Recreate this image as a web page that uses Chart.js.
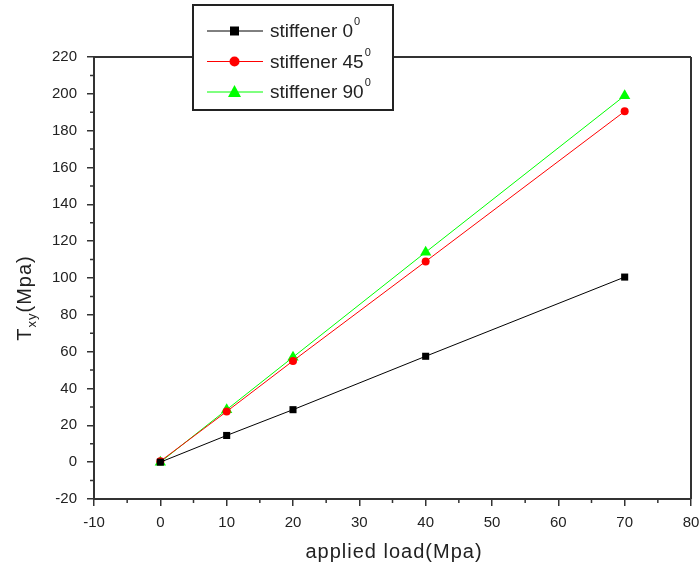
<!DOCTYPE html>
<html>
<head>
<meta charset="utf-8">
<script src="https://cdn.jsdelivr.net/npm/chart.js@4/dist/chart.umd.min.js"></script>
<style>
  html, body { margin: 0; padding: 0; background: #fff; }
  #wrap { width: 699px; height: 570px; position: relative; }
</style>
</head>
<body>
<div id="wrap"><canvas id="shearChart" width="699" height="570"></canvas></div>
<script>
// applied load (Mpa)
const loads = [0, 10, 20, 40, 70];
// shear stress Txy (Mpa) per stiffener angle
const stiff0 = [0, 14.5, 28.5, 57.5, 100.5];
const stiff45 = [0.5, 27.5, 55, 109, 190.5];
const stiff90 = [0, 28.5, 57, 114, 199];
const seriesLabels = ['stiffener 0', 'stiffener 45', 'stiffener 90'];
const xTicks = [-10, 0, 10, 20, 30, 40, 50, 60, 70, 80];
const yTicks = [-20, 0, 20, 40, 60, 80, 100, 120, 140, 160, 180, 200, 220];

const FONT = '"Liberation Sans", Arial, sans-serif';
const AXIS = '#333';

function toPoints(ys) {
    return loads.map((x, i) => ({ x: x, y: ys[i] }));
}

// ticks mineurs, cadre, titres et légende
const framePlugin = {
    id: 'frame',
    afterDraw(chart) {
        const { ctx, chartArea: a, scales: { x, y } } = chart;
        ctx.save();
        ctx.strokeStyle = AXIS;
        ctx.lineWidth = 2;
        ctx.beginPath();
        ctx.moveTo(a.left, a.top); ctx.lineTo(a.right, a.top);
        ctx.moveTo(a.right, a.top); ctx.lineTo(a.right, a.bottom);
        ctx.stroke();

        ctx.lineWidth = 1.5;
        ctx.beginPath();
        for (let v = -5; v < 80; v += 10) {
            const px = x.getPixelForValue(v);
            ctx.moveTo(px, a.bottom); ctx.lineTo(px, a.bottom + 4);
        }
        for (let v = -10; v < 220; v += 20) {
            const py = y.getPixelForValue(v);
            ctx.moveTo(a.left, py); ctx.lineTo(a.left - 4, py);
        }
        ctx.stroke();

        // titres
        ctx.fillStyle = '#222';
        ctx.font = '20px ' + FONT;
        ctx.letterSpacing = '1px';
        ctx.textAlign = 'center';
        ctx.textBaseline = 'middle';
        ctx.fillText('applied load(Mpa)', 394, 552);

        ctx.translate(25, 298);
        ctx.rotate(-Math.PI / 2);
        ctx.textAlign = 'left';
        const t1 = 'T', t2 = 'xy', t3 = '(Mpa)';
        ctx.font = '20px ' + FONT;
        const w1 = ctx.measureText(t1).width;
        const w3 = ctx.measureText(t3).width;
        ctx.font = '13px ' + FONT;
        const w2 = ctx.measureText(t2).width;
        let sx = -(w1 + w2 + w3) / 2;
        ctx.font = '20px ' + FONT;
        ctx.fillText(t1, sx, 0);
        ctx.font = '13px ' + FONT;
        ctx.fillText(t2, sx + w1, 7);
        ctx.font = '20px ' + FONT;
        ctx.fillText(t3, sx + w1 + w2, 0);
        ctx.restore();

        // légende
        ctx.save();
        const bx = 193, by = 5, bw = 200, bh = 105;
        ctx.fillStyle = '#fff';
        ctx.fillRect(bx, by, bw, bh);
        ctx.strokeStyle = '#222';
        ctx.lineWidth = 2;
        ctx.strokeRect(bx, by, bw, bh);
        chart.data.datasets.forEach((ds, i) => {
            const cy = by + 26 + i * 30.5;
            ctx.strokeStyle = ds.borderColor;
            ctx.lineWidth = 1;
            ctx.beginPath();
            ctx.moveTo(207, cy); ctx.lineTo(263, cy);
            ctx.stroke();
            ctx.fillStyle = ds.pointBackgroundColor;
            ctx.beginPath();
            if (ds.pointStyle === 'rect') {
                ctx.rect(230, cy - 4.5, 9, 9);
            } else if (ds.pointStyle === 'circle') {
                ctx.arc(234.5, cy, 5, 0, Math.PI * 2);
            } else {
                ctx.moveTo(234.5, cy - 7); ctx.lineTo(241, cy + 5); ctx.lineTo(228, cy + 5); ctx.closePath();
            }
            ctx.fill();
            ctx.fillStyle = '#222';
            ctx.font = '19px ' + FONT;
            ctx.textAlign = 'left';
            ctx.textBaseline = 'middle';
            ctx.fillText(ds.label, 270, cy + 1);
            const tw = ctx.measureText(ds.label).width;
            ctx.font = '11px ' + FONT;
            ctx.fillText('0', 270 + tw + 1, cy - 9);
        });
        ctx.restore();
    }
};

const ctx = document.getElementById('shearChart').getContext('2d');
new Chart(ctx, {
    type: 'line',
    data: {
        datasets: [
            {
                label: seriesLabels[0], data: toPoints(stiff0),
                borderColor: '#000', backgroundColor: '#000', pointBackgroundColor: '#000',
                pointStyle: 'rect', pointRadius: 5, borderWidth: 1, pointBorderWidth: 0
            },
            {
                label: seriesLabels[1], data: toPoints(stiff45),
                borderColor: '#ff0000', backgroundColor: '#ff0000', pointBackgroundColor: '#ff0000',
                pointStyle: 'circle', pointRadius: 4, borderWidth: 1, pointBorderWidth: 0
            },
            {
                label: seriesLabels[2], data: toPoints(stiff90),
                borderColor: '#00ff00', backgroundColor: '#00ff00', pointBackgroundColor: '#00ff00',
                pointStyle: 'triangle', pointRadius: 6.5, borderWidth: 1, pointBorderWidth: 0
            }
        ]
    },
    options: {
        responsive: false,
        animation: false,
        layout: { padding: { left: 0, top: 57, right: 8, bottom: 0 } },
        plugins: { legend: { display: false }, tooltip: { enabled: false } },
        scales: {
            x: {
                type: 'linear', min: -10, max: 80,
                afterBuildTicks: s => { s.ticks = xTicks.map(v => ({ value: v })); },
                afterFit: s => { s.height = 71; s.paddingLeft = 0; s.paddingRight = 0; },
                grid: { drawOnChartArea: false, tickLength: 7, tickColor: AXIS, lineWidth: 1.5 },
                border: { color: AXIS, width: 2 },
                ticks: { color: '#222', font: { family: FONT, size: 15 }, padding: 8, maxRotation: 0 }
            },
            y: {
                type: 'linear', min: -20, max: 220,
                afterBuildTicks: s => { s.ticks = yTicks.map(v => ({ value: v })); },
                afterFit: s => { s.width = 94; s.paddingTop = 0; s.paddingBottom = 0; },
                grid: { drawOnChartArea: false, tickLength: 7, tickColor: AXIS, lineWidth: 1.5 },
                border: { color: AXIS, width: 2 },
                ticks: { color: '#222', font: { family: FONT, size: 15 }, padding: 10 }
            }
        }
    },
    plugins: [framePlugin]
});
</script>
</body>
</html>
